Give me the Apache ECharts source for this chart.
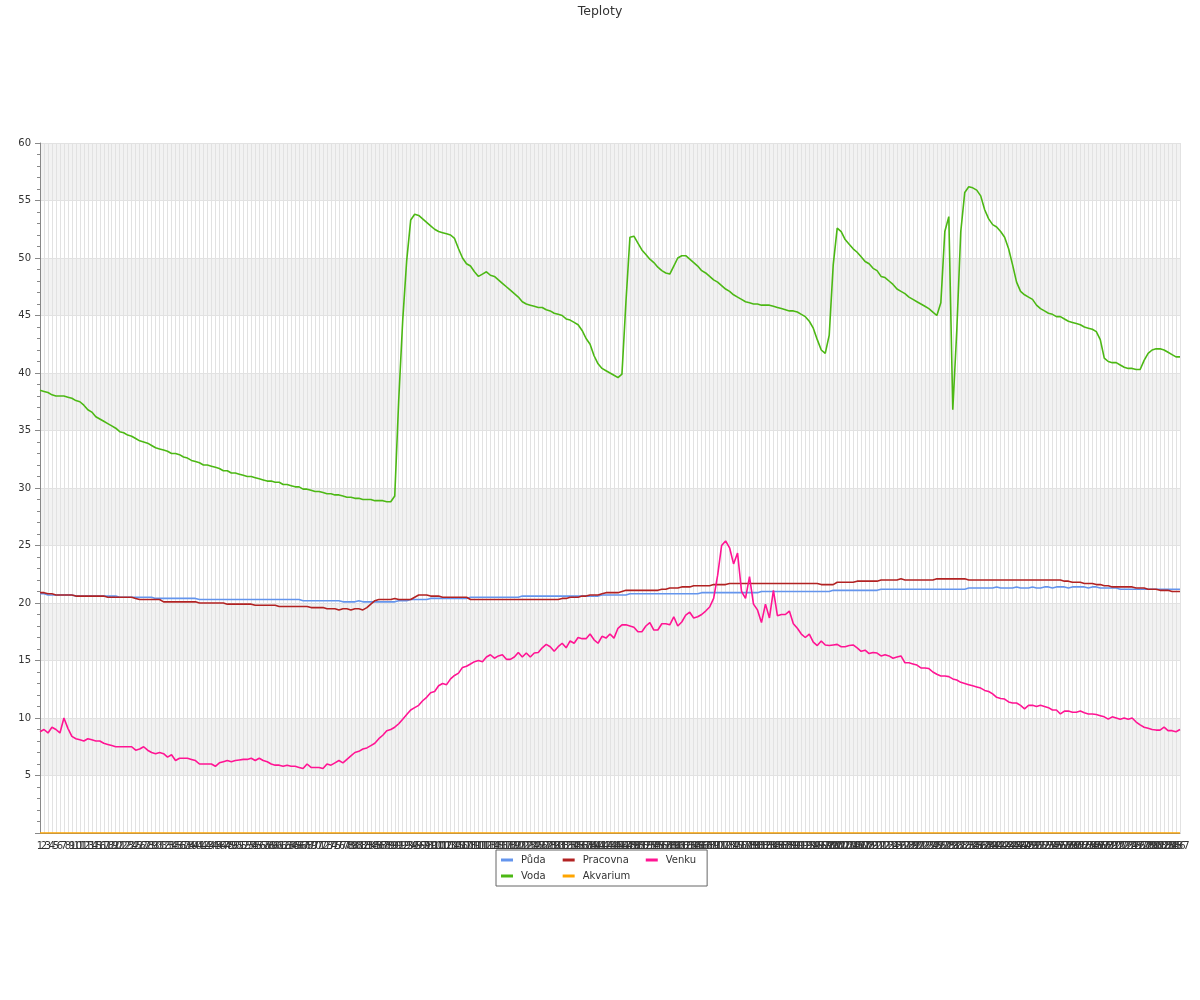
<!DOCTYPE html>
<html>
<head>
<meta charset="utf-8">
<script src="https://cdn.jsdelivr.net/npm/echarts@6/dist/echarts.min.js"></script>
<style>
html,body{margin:0;padding:0;background:#fff;}
#chart{width:1200px;height:1000px;}
</style>
</head>
<body>
<div id="chart"></div>
<script>
const categories = [
"1","2","3","4","5","6","7","8","9","10","11","12","13","14","15","16","17","18","19","20",
"21","22","23","24","25","26","27","28","29","30","31","32","33","34","35","36","37","38","39","40",
"41","42","43","44","45","46","47","48","49","50","51","52","53","54","55","56","57","58","59","60",
"61","62","63","64","65","66","67","68","69","70","71","72","73","74","75","76","77","78","79","80",
"81","82","83","84","85","86","87","88","89","90","91","92","93","94","95","96","97","98","99","100",
"101","102","103","104","105","106","107","108","109","110","111","112","113","114","115","116","117","118","119","120",
"121","122","123","124","125","126","127","128","129","130","131","132","133","134","135","136","137","138","139","140",
"141","142","143","144","145","146","147","148","149","150","151","152","153","154","155","156","157","158","159","160",
"161","162","163","164","165","166","167","168","169","170","171","172","173","174","175","176","177","178","179","180",
"181","182","183","184","185","186","187","188","189","190","191","192","193","194","195","196","197","198","199","200",
"201","202","203","204","205","206","207","208","209","210","211","212","213","214","215","216","217","218","219","220",
"221","222","223","224","225","226","227","228","229","230","231","232","233","234","235","236","237","238","239","240",
"241","242","243","244","245","246","247","248","249","250","251","252","253","254","255","256","257","258","259","260",
"261","262","263","264","265","266","267","268","269","270","271","272","273","274","275","276","277","278","279","280",
"281","282","283","284","285","286","287"
];

const puda = [
20.8,20.8,20.7,20.7,20.7,20.7,20.7,20.7,20.7,20.6,20.6,20.6,20.6,
20.6,20.6,20.6,20.6,20.6,20.6,20.6,
20.5,20.5,20.5,20.5,20.5,20.5,20.5,20.5,20.5,
20.4,20.4,20.4,20.4,20.4,20.4,20.4,20.4,20.4,20.4,20.4,
20.3,20.3,20.3,20.3,20.3,20.3,20.3,20.3,20.3,20.3,20.3,20.3,20.3,20.3,20.3,20.3,20.3,20.3,20.3,20.3,20.3,20.3,20.3,20.3,20.3,20.3,
20.2,20.2,20.2,20.2,20.2,20.2,20.2,20.2,20.2,20.2,
20.1,20.1,20.1,20.1,20.2,20.1,20.1,20.1,20.1,20.1,20.1,20.1,20.1,20.1,
20.2,20.2,20.2,20.3,20.3,20.3,20.3,20.3,
20.4,20.4,20.4,20.4,20.4,20.4,20.4,20.4,20.4,20.4,
20.5,20.5,20.5,20.5,20.5,20.5,20.5,20.5,20.5,20.5,20.5,20.5,20.5,
20.6,20.6,20.6,20.6,20.6,20.6,20.6,20.6,20.6,20.6,20.6,20.6,20.6,20.6,20.6,20.6,20.6,20.6,20.6,20.6,
20.7,20.7,20.7,20.7,20.7,20.7,20.7,
20.8,20.8,20.8,20.8,20.8,20.8,20.8,20.8,20.8,20.8,20.8,20.8,20.8,20.8,20.8,20.8,20.8,20.8,
20.9,20.9,20.9,20.9,20.9,20.9,20.9,20.9,20.9,20.9,20.9,20.9,20.9,20.9,20.9,
21.0,21.0,21.0,21.0,21.0,21.0,21.0,21.0,21.0,21.0,21.0,21.0,21.0,21.0,21.0,21.0,21.0,21.0,
21.1,21.1,21.1,21.1,21.1,21.1,21.1,21.1,21.1,21.1,21.1,21.1,
21.2,21.2,21.2,21.2,21.2,21.2,21.2,21.2,21.2,21.2,21.2,21.2,21.2,21.2,21.2,21.2,21.2,21.2,21.2,21.2,21.2,21.2,
21.3,21.3,21.3,21.3,21.3,21.3,21.3,21.4,21.3,21.3,21.3,21.3,21.4,21.3,21.3,21.3,21.4,21.3,21.3,21.4,21.4,21.3,21.4,21.4,21.4,21.3,21.4,21.4,21.4,21.4,21.3,21.4,21.4,
21.3,21.3,21.3,21.3,21.3,21.2,21.2,21.2,21.2,21.2,21.2,21.2,21.2,21.2,21.2,21.2,21.2,21.2,21.2,21.2,21.2
];

const voda = [
38.5,38.4,38.3,38.1,38.0,38.0,38.0,37.9,37.8,37.6,
37.5,37.2,36.8,36.6,36.2,36.0,35.8,35.6,35.4,35.2,
34.9,34.8,34.6,34.5,34.3,34.1,34.0,33.9,33.7,33.5,
33.4,33.3,33.2,33.0,33.0,32.9,32.7,32.6,32.4,32.3,
32.2,32.0,32.0,31.9,31.8,31.7,31.5,31.5,31.3,31.3,
31.2,31.1,31.0,31.0,30.9,30.8,30.7,30.6,30.6,30.5,
30.5,30.3,30.3,30.2,30.1,30.1,29.9,29.9,29.8,29.7,
29.7,29.6,29.5,29.5,29.4,29.4,29.3,29.2,29.2,29.1,
29.1,29.0,29.0,29.0,28.9,28.9,28.9,28.8,28.8,29.3,
37.7,44.6,49.8,53.3,53.8,53.7,53.4,53.1,52.8,52.5,
52.3,52.2,52.1,52.0,51.7,50.8,50.0,49.5,49.3,48.8,
48.4,48.6,48.8,48.5,48.4,48.1,47.8,47.5,47.2,46.9,
46.6,46.2,46.0,45.9,45.8,45.7,45.7,45.5,45.4,45.2,
45.1,45.0,44.7,44.6,44.4,44.2,43.7,43.0,42.5,41.5,
40.8,40.4,40.2,40.0,39.8,39.6,39.9,46.2,51.8,51.9,
51.3,50.7,50.3,49.9,49.6,49.2,48.9,48.7,48.6,49.3,
50.0,50.2,50.2,49.9,49.6,49.3,48.9,48.7,48.4,48.1,
47.9,47.6,47.3,47.1,46.8,46.6,46.4,46.2,46.1,46.0,
46.0,45.9,45.9,45.9,45.8,45.7,45.6,45.5,45.4,45.4,
45.3,45.1,44.9,44.5,43.9,42.9,42.0,41.7,43.3,49.4,
52.6,52.3,51.6,51.2,50.8,50.5,50.1,49.7,49.5,49.1,
48.9,48.4,48.3,48.0,47.7,47.3,47.1,46.9,46.6,46.4,
46.2,46.0,45.8,45.6,45.3,45.0,46.1,52.3,53.6,36.8,
43.7,52.3,55.7,56.2,56.1,55.9,55.4,54.2,53.4,52.9,
52.7,52.3,51.8,50.8,49.4,47.9,47.1,46.8,46.6,46.4,
45.9,45.6,45.4,45.2,45.1,44.9,44.9,44.7,44.5,44.4,
44.3,44.2,44.0,43.9,43.8,43.6,42.9,41.3,41.0,40.9,
40.9,40.7,40.5,40.4,40.4,40.3,40.3,41.1,41.7,42.0,
42.1,42.1,42.0,41.8,41.6,41.4,41.4
];

const pracovna = [
20.9,20.9,20.8,20.8,
20.7,20.7,20.7,20.7,20.7,
20.6,20.6,20.6,20.6,20.6,20.6,20.6,20.6,
20.5,20.5,20.5,20.5,20.5,20.5,20.5,
20.4,20.3,20.3,20.3,20.3,20.3,20.3,
20.1,20.1,20.1,20.1,20.1,20.1,20.1,20.1,20.1,
20.0,20.0,20.0,20.0,20.0,20.0,20.0,
19.9,19.9,19.9,19.9,19.9,19.9,19.9,
19.8,19.8,19.8,19.8,19.8,19.8,
19.7,19.7,19.7,19.7,19.7,19.7,19.7,19.7,
19.6,19.6,19.6,19.6,
19.5,19.5,19.5,19.4,19.5,19.5,19.4,19.5,19.5,
19.4,19.6,19.9,20.2,
20.3,20.3,20.3,20.3,
20.4,
20.3,20.3,20.3,20.3,
20.5,
20.7,20.7,20.7,
20.6,20.6,20.6,
20.5,20.5,20.5,20.5,20.5,20.5,20.5,
20.3,20.3,20.3,20.3,20.3,20.3,20.3,20.3,20.3,20.3,20.3,20.3,20.3,20.3,20.3,20.3,20.3,20.3,20.3,20.3,20.3,20.3,20.3,
20.4,20.4,20.5,20.5,20.5,20.6,20.6,20.7,20.7,20.7,
20.8,20.9,20.9,20.9,20.9,21.0,
21.1,21.1,21.1,21.1,21.1,21.1,21.1,21.1,21.1,
21.2,21.2,21.3,21.3,21.3,21.4,21.4,21.4,
21.5,21.5,21.5,21.5,21.5,
21.6,21.6,21.6,21.6,
21.7,21.7,21.7,21.7,21.7,21.7,21.7,21.7,21.7,21.7,21.7,21.7,21.7,21.7,21.7,21.7,21.7,21.7,21.7,21.7,21.7,21.7,21.7,
21.6,21.6,21.6,21.6,
21.8,21.8,21.8,21.8,21.8,
21.9,21.9,21.9,21.9,21.9,21.9,
22.0,22.0,22.0,22.0,22.0,22.1,22.0,22.0,22.0,22.0,22.0,22.0,22.0,22.0,
22.1,22.1,22.1,22.1,22.1,22.1,22.1,22.1,
22.0,22.0,22.0,22.0,22.0,22.0,22.0,22.0,22.0,22.0,22.0,22.0,22.0,22.0,22.0,22.0,22.0,22.0,22.0,22.0,22.0,22.0,22.0,22.0,
21.9,21.9,21.8,21.8,21.8,21.7,
21.7,21.7,21.6,21.6,21.5,21.5,
21.4,21.4,21.4,21.4,21.4,21.4,
21.3,21.3,21.3,
21.2,21.2,21.2,
21.1,21.1,21.1,
21.0,21.0,21.0
];

const akvarium = [
0,0,0,0,0,0,0,0,0,0,0,0,0,0,0,0,0,0,0,0,0,0,0,0,0,0,0,0,0,0,
0,0,0,0,0,0,0,0,0,0,0,0,0,0,0,0,0,0,0,0,0,0,0,0,0,0,0,0,0,0,
0,0,0,0,0,0,0,0,0,0,0,0,0,0,0,0,0,0,0,0,0,0,0,0,0,0,0,0,0,0,
0,0,0,0,0,0,0,0,0,0,0,0,0,0,0,0,0,0,0,0,0,0,0,0,0,0,0,0,0,0,
0,0,0,0,0,0,0,0,0,0,0,0,0,0,0,0,0,0,0,0,0,0,0,0,0,0,0,0,0,0,
0,0,0,0,0,0,0,0,0,0,0,0,0,0,0,0,0,0,0,0,0,0,0,0,0,0,0,0,0,0,
0,0,0,0,0,0,0,0,0,0,0,0,0,0,0,0,0,0,0,0,0,0,0,0,0,0,0,0,0,0,
0,0,0,0,0,0,0,0,0,0,0,0,0,0,0,0,0,0,0,0,0,0,0,0,0,0,0,0,0,0,
0,0,0,0,0,0,0,0,0,0,0,0,0,0,0,0,0,0,0,0,0,0,0,0,0,0,0,0,0,0,
0,0,0,0,0,0,0,0,0,0,0,0,0,0,0,0,0
];

const venku = [
8.8,9.0,8.7,9.2,9.0,8.7,10.0,9.1,8.4,8.2,
8.1,8.0,8.2,8.1,8.0,8.0,7.8,7.7,7.6,7.5,
7.5,7.5,7.5,7.5,7.2,7.3,7.5,7.2,7.0,6.9,
7.0,6.9,6.6,6.8,6.3,6.5,6.5,6.5,6.4,6.3,
6.0,6.0,6.0,6.0,5.8,6.1,6.2,6.3,6.2,6.3,
6.35,6.4,6.4,6.5,6.3,6.5,6.3,6.2,6.0,5.9,
5.9,5.8,5.9,5.8,5.8,5.7,5.6,6.0,5.7,5.7,
5.7,5.6,6.0,5.9,6.1,6.3,6.1,6.4,6.7,7.0,
7.1,7.3,7.4,7.6,7.8,8.2,8.5,8.9,9.0,9.2,
9.5,9.9,10.3,10.7,10.9,11.1,11.5,11.8,12.2,12.3,
12.8,13.0,12.9,13.4,13.7,13.9,14.4,14.5,14.7,14.9,
15.0,14.9,15.3,15.5,15.2,15.4,15.5,15.1,15.1,15.3,
15.7,15.3,15.65,15.3,15.65,15.7,16.1,16.4,16.2,15.8,
16.2,16.5,16.1,16.7,16.5,17.0,16.9,16.9,17.3,16.8,
16.5,17.1,16.95,17.3,16.95,17.8,18.1,18.1,18.0,17.9,
17.5,17.5,18.0,18.3,17.65,17.65,18.2,18.2,18.1,18.8,
18.0,18.35,18.95,19.2,18.7,18.8,19.0,19.3,19.65,20.4,
22.4,25.0,25.4,24.8,23.4,24.35,21.0,20.4,22.3,19.9,
19.4,18.3,19.9,18.7,21.1,18.9,19.0,19.0,19.3,18.2,
17.8,17.3,17.0,17.3,16.6,16.3,16.7,16.35,16.3,16.35,
16.4,16.2,16.2,16.3,16.35,16.1,15.8,15.9,15.6,15.7,
15.65,15.4,15.5,15.4,15.2,15.3,15.4,14.8,14.8,14.7,
14.6,14.35,14.35,14.3,14.0,13.8,13.65,13.65,13.6,13.4,
13.3,13.1,13.0,12.9,12.8,12.7,12.6,12.4,12.3,12.1,
11.8,11.7,11.65,11.4,11.3,11.3,11.1,10.8,11.1,11.1,
11.0,11.1,11.0,10.9,10.7,10.7,10.35,10.6,10.6,10.5,
10.5,10.6,10.45,10.35,10.35,10.3,10.2,10.1,9.9,10.1,
10.0,9.9,10.0,9.9,10.0,9.65,9.4,9.2,9.1,9.0,
8.95,8.95,9.2,8.9,8.9,8.8,9.0
];

const yTicks = { min: 0, max: 60, step: 5 };
const legendRow1 = ['Půda', 'Pracovna', 'Venku'];
const legendRow2 = ['Voda', 'Akvarium'];

const chart = echarts.init(document.getElementById('chart'), null, { renderer: 'canvas' });

const mk = (name, data, color) => ({
  name: name, type: 'line', data: data,
  symbol: 'none', showSymbol: false,
  lineStyle: { width: 1.6, color: color },
  itemStyle: { color: color },
  emphasis: { disabled: true }
});

const legendBase = {
  orient: 'horizontal',
  icon: 'rect', itemWidth: 12, itemHeight: 3,
  itemGap: 17,
  textStyle: { fontSize: 10, color: '#333', fontFamily: 'DejaVu Sans', padding: [0, 0, 0, 3] }
};

chart.setOption({
  animation: false,
  backgroundColor: '#ffffff',
  title: {
    text: 'Teploty', left: 'center', top: 0,
    textStyle: { fontSize: 12.5, fontWeight: 'normal', color: '#333', fontFamily: 'DejaVu Sans' }
  },
  legend: [
    Object.assign({}, legendBase, {
      data: legendRow1, left: 496, top: 850,
      padding: [5, 11, 21, 5],
      borderColor: '#666', borderWidth: 1
    }),
    Object.assign({}, legendBase, {
      data: legendRow2, left: 496, top: 866,
      padding: [5, 5, 5, 5]
    })
  ],
  grid: { left: 40, right: 20, top: 143, bottom: 167, containLabel: false },
  xAxis: {
    type: 'category',
    data: categories,
    boundaryGap: false,
    axisLine: { show: true, lineStyle: { color: '#888' } },
    axisTick: { show: false },
    axisLabel: { interval: 0, fontSize: 10, color: '#333', fontFamily: 'DejaVu Sans', margin: 8 },
    splitLine: { show: true, interval: 0, lineStyle: { color: '#e2e2e2', width: 1 } }
  },
  yAxis: {
    type: 'value',
    min: yTicks.min, max: yTicks.max, interval: yTicks.step,
    axisLine: { show: true, lineStyle: { color: '#888' } },
    axisTick: { show: true, length: 5, lineStyle: { color: '#888' } },
    minorTick: { show: true, splitNumber: 5, length: 3, lineStyle: { color: '#888' } },
    axisLabel: { fontSize: 10, color: '#333', fontFamily: 'DejaVu Sans', margin: 9, showMinLabel: false },
    splitLine: { show: true, lineStyle: { color: '#e2e2e2' } },
    splitArea: { show: true, areaStyle: { color: ['rgba(255,255,255,0)', '#f2f2f2'] } }
  },
  series: [
    mk('Půda', puda, '#6495ED'),
    mk('Voda', voda, '#4cb814'),
    mk('Pracovna', pracovna, '#b22222'),
    mk('Akvarium', akvarium, '#ffa500'),
    mk('Venku', venku, '#ff1493')
  ]
});
</script>
</body>
</html>
